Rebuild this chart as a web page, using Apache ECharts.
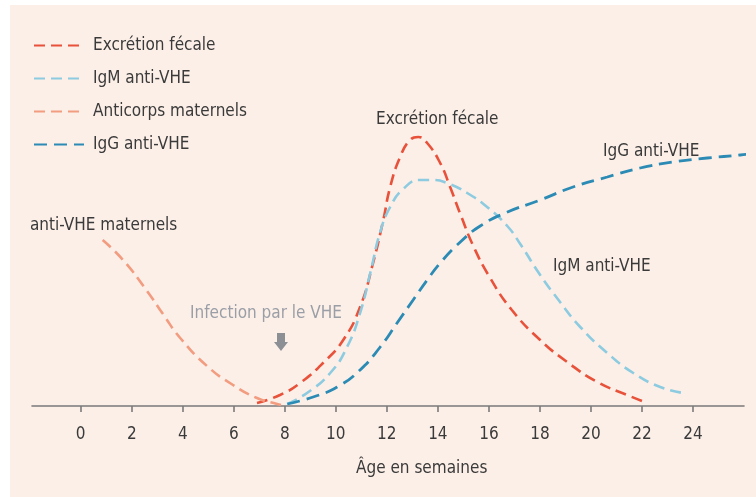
<!DOCTYPE html>
<html>
<head>
<meta charset="utf-8">
<script src="https://cdn.jsdelivr.net/npm/echarts@6/dist/echarts.min.js"></script>
<style>
html,body{margin:0;padding:0;background:#ffffff;}
#c{width:756px;height:497px;}
</style>
</head>
<body>
<div id="c"></div>
<script>
var tickLabels = ['0','2','4','6','8','10','12','14','16','18','20','22','24'];

var maternalWeeks  = [0.86, 1.66, 2.6, 3.25, 3.9, 4.95, 5.97, 6.91, 7.7, 7.85];
var maternalValues = [166, 146, 115, 91, 68, 40, 21, 8, 2, 1];

var fecalWeeks  = [6.91, 7.81, 8.6, 9.5, 10.29, 10.95, 11.46, 11.86, 12.13, 12.52, 12.91, 13.23, 13.58, 14.09, 14.48, 14.88, 15.39, 16.05, 16.9, 18.01, 19.07, 20.25, 21.42, 22.21];
var fecalValues = [3, 11, 23, 43, 66, 99, 143, 186, 219, 249, 266, 269, 263, 243, 219, 192, 160, 128, 96, 66, 44, 24, 11, 3];

var igmWeeks  = [8.09, 8.87, 9.78, 10.44, 10.95, 11.35, 11.74, 12.13, 12.64, 13.3, 13.81, 14.36, 15.15, 15.93, 16.72, 17.23, 18.01, 18.79, 19.58, 20.64, 21.66, 22.72, 23.62];
var igmValues = [2, 13, 33, 59, 93, 133, 174, 199, 217, 226, 226, 223, 213, 199, 180, 162, 131, 104, 79, 53, 33, 19, 13];

var iggWeeks  = [8.1, 9.11, 10.05, 10.95, 11.74, 12.4, 13.03, 13.58, 14.09, 14.88, 15.66, 16.64, 18.01, 19.3, 20.64, 21.93, 23.23, 24.56, 25.86, 26.49];
var iggValues = [2, 9, 19, 36, 59, 83, 106, 126, 143, 164, 180, 193, 206, 219, 229, 238, 244, 248, 251, 253];

function zip(a, b) { return a.map(function (v, i) { return [v, b[i]]; }); }

var FONT = "'Liberation Sans Narrow','DejaVu Sans Condensed',sans-serif";
var TXT = '#3a3a3a';

var chart = echarts.init(document.getElementById('c'), null, {renderer: 'canvas'});

function lineSeries(name, data, color, dash, width) {
  return {
    name: name, type: 'line', data: data, smooth: 0.5,
    symbol: 'none', clip: false, silent: true,
    lineStyle: {color: color, width: width, type: dash},
    itemStyle: {color: color}
  };
}

var ticks = [0,2,4,6,8,10,12,14,16,18,20,22,24];

var option = {
  animation: false,
  backgroundColor: '#ffffff',
  graphic: [
    {type: 'rect', z: -10, silent: true, shape: {x: 10, y: 5, width: 746, height: 492}, style: {fill: '#fcefe8'}},
    {type: 'text', left: 376, top: 111, style: {text: 'Excrétion fécale', font: '17px ' + FONT, fill: TXT}},
    {type: 'text', left: 603, top: 143, style: {text: 'IgG anti-VHE', font: '17px ' + FONT, fill: TXT}},
    {type: 'text', left: 553, top: 258, style: {text: 'IgM anti-VHE', font: '17px ' + FONT, fill: TXT}},
    {type: 'text', left: 30, top: 217, style: {text: 'anti-VHE maternels', font: '17px ' + FONT, fill: TXT}},
    {type: 'text', left: 190, top: 305, style: {text: 'Infection par le VHE', font: '17px ' + FONT, fill: '#9a9ea6'}},
    {type: 'polygon', silent: true, shape: {points: [[277,333],[285,333],[285,342],[288,342],[281,351],[274,342],[277,342]]}, style: {fill: '#8c8f94'}},
    {type: 'text', left: 356, top: 460, style: {text: 'Âge en semaines', font: '17px ' + FONT, fill: TXT}}
  ],
  legend: {
    orient: 'vertical', left: 28, top: 32,
    itemWidth: 50, itemHeight: 18, itemGap: 16,
    itemStyle: {opacity: 0},
    textStyle: {fontFamily: FONT, fontSize: 17, color: TXT, padding: [0, 0, 0, 4]},
    data: ['Excrétion fécale', 'IgM anti-VHE', 'Anticorps maternels', 'IgG anti-VHE'],
    selectedMode: false
  },
  grid: {left: 32, right: 12, top: 5, bottom: 91},
  xAxis: {
    type: 'value', min: -1.91, max: 26.0, interval: 2,
    axisLine: {show: true, lineStyle: {color: '#7a7a7a', width: 1.6}},
    axisTick: {show: true, length: 6, lineStyle: {color: '#7a7a7a', width: 1.6}, customValues: ticks},
    splitLine: {show: false},
    axisLabel: {
      fontFamily: FONT, fontSize: 17, color: TXT, margin: 20,
      customValues: ticks,
      formatter: function (v) { return tickLabels[Math.round(v / 2)] || ''; }
    }
  },
  yAxis: {type: 'value', min: 0, max: 401, show: false},
  series: [
    lineSeries('Excrétion fécale', zip(fecalWeeks, fecalValues), '#e8513a', [11, 6], 2.6),
    lineSeries('IgM anti-VHE', zip(igmWeeks, igmValues), '#8ccbe0', [11, 6], 2.6),
    lineSeries('Anticorps maternels', zip(maternalWeeks, maternalValues), '#f29c80', [11, 6], 2.6),
    lineSeries('IgG anti-VHE', zip(iggWeeks, iggValues), '#2b8bb4', [13, 7], 2.8)
  ]
};
chart.setOption(option);
</script>
</body>
</html>
